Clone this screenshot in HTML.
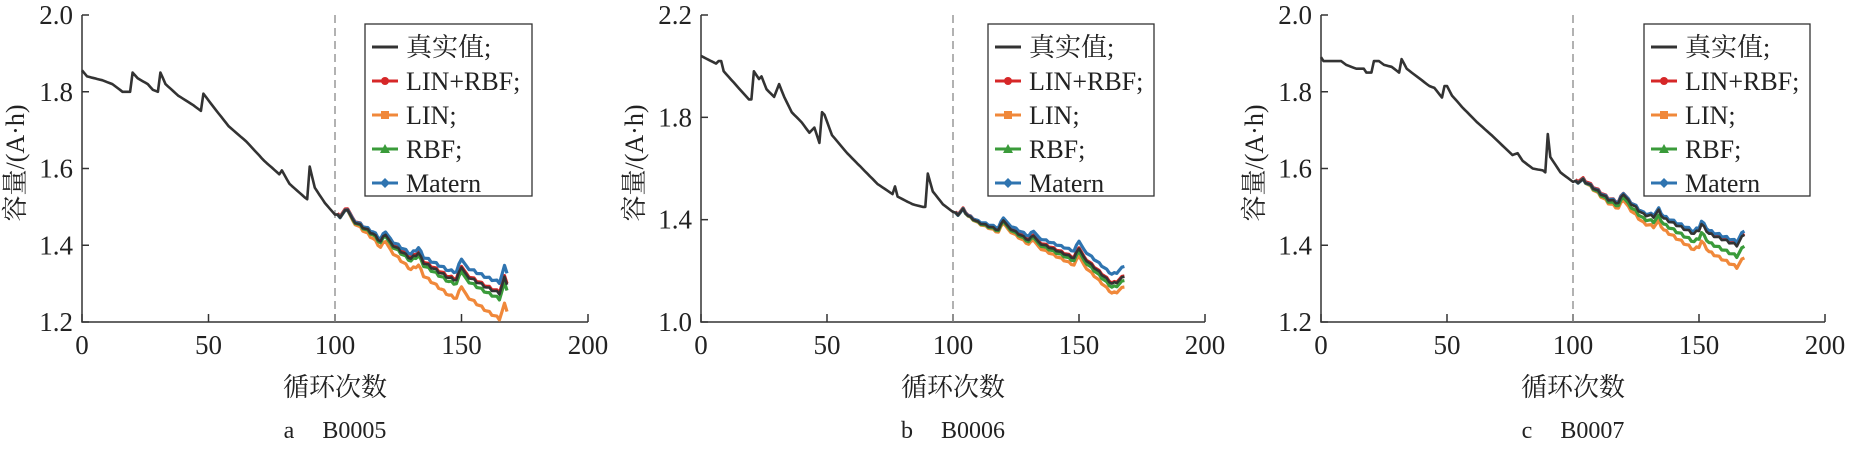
<!DOCTYPE html>
<html><head><meta charset="utf-8">
<style>
html,body{margin:0;padding:0;background:#fff;}
svg{display:block;}
text{font-family:"Liberation Serif","Times New Roman","DejaVu Serif","Noto Serif CJK SC",serif;fill:#222;}
</style></head>
<body>
<svg id="s" width="1853" height="468" xmlns="http://www.w3.org/2000/svg" font-family="'Liberation Serif','DejaVu Serif','Noto Serif CJK SC',serif"></svg>
<script>
const S=document.getElementById('s');
const FF=`font-family="'Liberation Serif','DejaVu Serif','Noto Serif CJK SC',serif"`;
let h='';
const panels=[
 {x0:82,x1:588,ymin:1.2,ymax:2.0,ticks:[1.2,1.4,1.6,1.8,2.0],lab:'a',name:'B0005',leg:[365,532],
  t:[[0,1.856],[2,1.84],[8,1.83],[12,1.82],[16,1.80],[19,1.80],[20,1.85],[22,1.835],[26,1.82],[28,1.805],[30,1.80],[31,1.85],[33,1.82],[38,1.79],[44,1.765],[47,1.75],[48,1.795],[52,1.76],[58,1.71],[65,1.67],[72,1.62],[78,1.585],[79,1.595],[82,1.56],[88,1.525],[89,1.52],[90,1.605],[92,1.55],[96,1.51],[100,1.48],[102,1.475],[105,1.495],[107,1.465],[115,1.43],[118,1.41],[120,1.43],[122,1.405],[130,1.365],[133,1.38],[135,1.355],[145,1.315],[148,1.31],[150,1.345],[152,1.32],[160,1.29],[165,1.275],[167,1.315],[168,1.30]],
  off:{m:0.03,l:-0.07,r:-0.015}},
 {x0:701,x1:1205,ymin:1.0,ymax:2.2,ticks:[1.0,1.4,1.8,2.2],lab:'b',name:'B0006',leg:[988,1154],
  t:[[0,2.04],[2,2.03],[4,2.02],[6,2.01],[7,2.02],[8,2.02],[9,1.98],[19,1.87],[20,1.87],[21,1.98],[23,1.95],[24,1.96],[26,1.91],[29,1.88],[31,1.93],[33,1.88],[36,1.82],[40,1.78],[43,1.74],[45,1.76],[47,1.70],[48,1.82],[49,1.81],[52,1.73],[58,1.66],[62,1.62],[68,1.56],[70,1.54],[76,1.50],[77,1.53],[78,1.49],[80,1.48],[84,1.46],[88,1.45],[89,1.45],[90,1.58],[92,1.51],[96,1.46],[100,1.43],[102,1.42],[104,1.44],[106,1.415],[110,1.39],[118,1.36],[120,1.40],[122,1.37],[130,1.32],[132,1.34],[134,1.31],[148,1.25],[150,1.29],[152,1.25],[163,1.15],[165,1.155],[168,1.18]],
  off:{m:0.04,l:-0.04,r:-0.015}},
 {x0:1321,x1:1825,ymin:1.2,ymax:2.0,ticks:[1.2,1.4,1.6,1.8,2.0],lab:'c',name:'B0007',leg:[1644,1810],
  t:[[0,1.89],[1,1.88],[8,1.88],[10,1.87],[14,1.86],[17,1.86],[18,1.85],[20,1.85],[21,1.88],[23,1.88],[25,1.87],[28,1.865],[30,1.855],[31,1.85],[32,1.885],[34,1.86],[40,1.83],[43,1.815],[45,1.81],[48,1.785],[49,1.815],[50,1.815],[52,1.79],[56,1.76],[62,1.72],[68,1.685],[72,1.66],[76,1.635],[78,1.64],[80,1.62],[84,1.60],[88,1.595],[89,1.59],[90,1.69],[91,1.63],[95,1.59],[100,1.565],[102,1.565],[104,1.57],[106,1.56],[114,1.52],[118,1.51],[120,1.535],[122,1.515],[128,1.48],[132,1.475],[134,1.49],[136,1.47],[148,1.43],[150,1.44],[151,1.455],[154,1.43],[165,1.40],[168,1.43]],
  off:{m:0.01,l:-0.06,r:-0.03}}
];
const Y0=322,Y1=15;
function interp(t,c){for(let i=0;i<t.length-1;i++){if(c>=t[i][0]&&c<=t[i+1][0]){const f=(c-t[i][0])/(t[i+1][0]-t[i][0]||1);return t[i][1]+f*(t[i+1][1]-t[i][1]);}}return t[t.length-1][1];}
function jit(c){return c>100?((c*7)%3-1)*0.003:0;}
panels.forEach(p=>{
 const X=c=>p.x0+(p.x1-p.x0)*c/200;
 const Y=v=>Y0-(Y0-Y1)*(v-p.ymin)/(p.ymax-p.ymin);
 h+=`<path d="M${p.x0} ${Y1}V${Y0}H${p.x1}" fill="none" stroke="#333" stroke-width="1.5"/>`;
 p.ticks.forEach(v=>{const y=Y(v);h+=`<line x1="${p.x0}" y1="${y}" x2="${p.x0+7}" y2="${y}" stroke="#333" stroke-width="1.5"/><text ${FF} x="${p.x0-9}" y="${y+9}" font-size="27" text-anchor="end">${v.toFixed(1)}</text>`;});
 [0,50,100,150,200].forEach(c=>{const x=X(c);h+=`<line x1="${x}" y1="${Y0}" x2="${x}" y2="${Y0-8}" stroke="#333" stroke-width="1.5"/><text ${FF} x="${x}" y="354" font-size="27" text-anchor="middle">${c}</text>`;});
 h+=`<line x1="${X(100)}" y1="${Y1}" x2="${X(100)}" y2="${Y0}" stroke="#888" stroke-width="1.3" stroke-dasharray="8,5"/>`;
 const series=[['r',0,'#d62728'],['l',p.off.l,'#f0883a'],['g',p.off.r,'#3a9b3a'],['m',p.off.m,'#2f74b0']];
 series.forEach(s=>{let d='';for(let c=101;c<=168;c++){const f=Math.max(0,(c-104)/64);let v=interp(p.t,c)+s[1]*f+(s[0]=='r'?0.003:0)+jit(c+3);d+=(c==101?'M':'L')+X(c).toFixed(1)+' '+Y(v).toFixed(1);}
  h+=`<path d="${d}" fill="none" stroke="${s[2]}" stroke-width="3.2" stroke-linejoin="round"/>`;});
 let d='';for(let c=0;c<=168;c++){d+=(c?'L':'M')+X(c).toFixed(1)+' '+Y(interp(p.t,c)+jit(c)).toFixed(1);}
 h+=`<path d="${d}" fill="none" stroke="#333" stroke-width="2.6" stroke-linejoin="round"/>`;
 const [lx,rx]=p.leg;
 h+=`<rect x="${lx}" y="24" width="${rx-lx}" height="172" fill="#fff" stroke="#333" stroke-width="1.3"/>`;
 const items=[['真实值;','#333',''],['LIN+RBF;','#d62728','c'],['LIN;','#f0883a','s'],['RBF;','#3a9b3a','t'],['Matern','#2f74b0','d']];
 items.forEach((it,i)=>{const y=47+i*34;const a=lx+7,b=lx+33,m=(a+b)/2;
  h+=`<line x1="${a}" y1="${y}" x2="${b}" y2="${y}" stroke="${it[1]}" stroke-width="3"/>`;
  if(it[2]=='c')h+=`<circle cx="${m}" cy="${y}" r="4" fill="${it[1]}"/>`;
  if(it[2]=='s')h+=`<rect x="${m-4}" y="${y-4}" width="8" height="8" fill="${it[1]}"/>`;
  if(it[2]=='t')h+=`<path d="M${m-5} ${y+4}L${m+5} ${y+4}L${m} ${y-5}Z" fill="${it[1]}"/>`;
  if(it[2]=='d')h+=`<path d="M${m-5} ${y}L${m} ${y-5}L${m+5} ${y}L${m} ${y+5}Z" fill="${it[1]}"/>`;
  h+=`<text ${FF} x="${lx+41}" y="${y+9}" font-size="26">${it[0]}</text>`;});
 const cx=(p.x0+p.x1)/2;
 h+=`<text ${FF} x="${cx}" y="396" font-size="26" text-anchor="middle">循环次数</text>`;
 h+=`<text ${FF} x="${cx}" y="438" font-size="24" text-anchor="middle">${p.lab}<tspan dx="28">${p.name}</tspan></text>`;
 h+=`<text ${FF} transform="translate(${p.x0-58},163) rotate(-90)" font-size="26" text-anchor="middle">容量/(A·h)</text>`;
});
S.innerHTML=h;
</script>
</body></html>
